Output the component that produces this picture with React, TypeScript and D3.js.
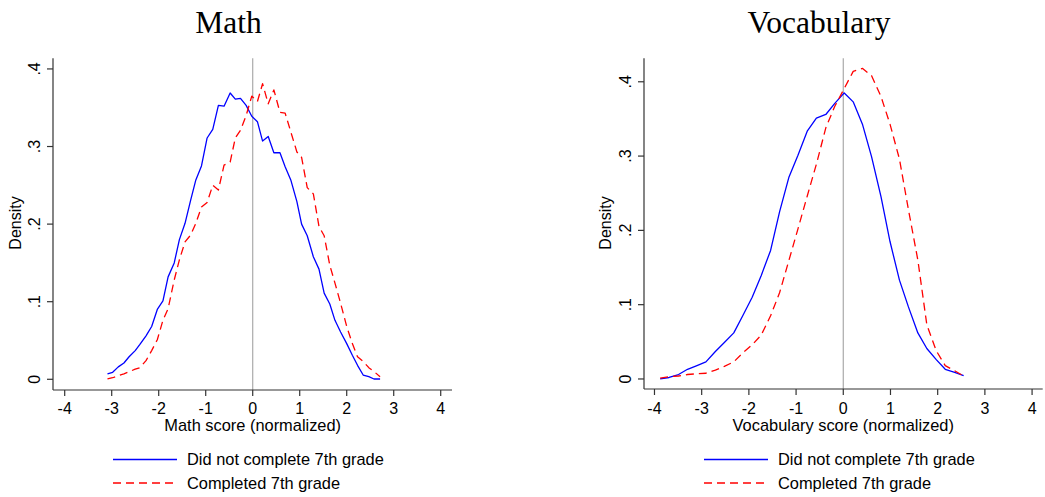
import React from "react";
import * as d3 from "d3";

const mathX = [
  -3.09, -2.98, -2.86, -2.74, -2.63, -2.5, -2.4, -2.27, -2.15, -2.03,
  -1.91, -1.8, -1.67, -1.56, -1.44, -1.32, -1.21, -1.09, -0.97, -0.85,
  -0.73, -0.61, -0.48, -0.37, -0.26, -0.14, -0.02, 0.1, 0.21, 0.33,
  0.45, 0.58, 0.69, 0.81, 0.94, 1.04, 1.16, 1.29, 1.41, 1.52,
  1.64, 1.75, 1.87, 2.0, 2.12, 2.23, 2.35, 2.47, 2.58, 2.71,
];
const mathNotCompleted = [
  0.007, 0.009, 0.016, 0.021, 0.029, 0.037, 0.045, 0.056, 0.068, 0.09,
  0.101, 0.132, 0.15, 0.18, 0.201, 0.231, 0.257, 0.275, 0.311, 0.322,
  0.353, 0.352, 0.369, 0.361, 0.362, 0.353, 0.339, 0.332, 0.307, 0.313,
  0.292, 0.292, 0.274, 0.257, 0.229, 0.2, 0.185, 0.158, 0.142, 0.111,
  0.097, 0.076, 0.061, 0.046, 0.031, 0.018, 0.0055, 0.0034, 0.0004, 0.0004,
];
const mathCompleted = [
  0.0004, 0.002, 0.0047, 0.007, 0.0098, 0.013, 0.015, 0.024, 0.037, 0.051,
  0.076, 0.091, 0.128, 0.154, 0.177, 0.186, 0.201, 0.222, 0.228, 0.25,
  0.244, 0.276, 0.28, 0.311, 0.321, 0.34, 0.365, 0.358, 0.381, 0.355,
  0.373, 0.344, 0.343, 0.319, 0.293, 0.286, 0.247, 0.239, 0.197, 0.185,
  0.147, 0.124, 0.098, 0.068, 0.046, 0.029, 0.023, 0.015, 0.01, 0.0034,
];

const vocabX = [
  -3.88, -3.69, -3.49, -3.3, -3.1, -2.91, -2.71, -2.52, -2.32, -2.13,
  -1.93, -1.74, -1.54, -1.35, -1.15, -0.96, -0.76, -0.57, -0.37, -0.18,
  0.02, 0.21, 0.41, 0.6, 0.8, 0.99, 1.19, 1.38, 1.58, 1.77,
  1.97, 2.16, 2.36, 2.55,
];
const vocabNotCompleted = [
  0.0, 0.002, 0.006, 0.013, 0.018, 0.023, 0.037, 0.049, 0.062, 0.085,
  0.11, 0.139, 0.173, 0.225, 0.272, 0.301, 0.334, 0.351, 0.356, 0.371,
  0.385, 0.373, 0.342, 0.299, 0.245, 0.185, 0.133, 0.097, 0.062, 0.041,
  0.026, 0.013, 0.009, 0.0045,
];
const vocabCompleted = [
  0.001, 0.003, 0.004, 0.006, 0.007, 0.0077, 0.012, 0.017, 0.023, 0.035,
  0.046, 0.059, 0.085, 0.116, 0.16, 0.202, 0.247, 0.289, 0.338, 0.367,
  0.391, 0.414, 0.418, 0.408, 0.38, 0.343, 0.296, 0.228, 0.16, 0.073,
  0.038, 0.018, 0.011, 0.004,
];

const xTicks = [-4, -3, -2, -1, 0, 1, 2, 3, 4];
const yTicks = [0, 0.1, 0.2, 0.3, 0.4];
const yTickLabels = ["0", ".1", ".2", ".3", ".4"];
const seriesNames = ["Did not complete 7th grade", "Completed 7th grade"];
const panelTitles = ["Math", "Vocabulary"];
const xLabels = ["Math score (normalized)", "Vocabulary score (normalized)"];

const SANS = "'Liberation Sans', Arial, Helvetica, sans-serif";
const SERIF = "'Liberation Serif', 'Times New Roman', serif";
const BLUE = "#0000ff";
const RED = "#ff0000";
const AXIS = "#333333";

type PanelProps = {
  title: string;
  titleX: number;
  xLabel: string;
  xs: number[];
  blue: number[];
  red: number[];
  xPx: [number, number];
  xDom: [number, number];
  yPx: [number, number];
  yDom: [number, number];
  densityX: number;
  tickLabelX: number;
  legendX: number;
};

function Panel(p: PanelProps) {
  const x = d3.scaleLinear().domain(p.xDom).range(p.xPx);
  const y = d3.scaleLinear().domain(p.yDom).range(p.yPx);
  const line = d3
    .line<[number, number]>()
    .x((d) => x(d[0]))
    .y((d) => y(d[1]));
  const bluePts = p.xs.map((v, i) => [v, p.blue[i]] as [number, number]);
  const redPts = p.xs.map((v, i) => [v, p.red[i]] as [number, number]);
  const top = p.yPx[1];
  const bottom = p.yPx[0];
  const left = p.xPx[0];
  const right = p.xPx[1];
  const midY = 223;
  return (
    <g>
      <text x={p.titleX} y={33} fontFamily={SERIF} fontSize={31.5} textAnchor="middle" fill="#000">
        {p.title}
      </text>
      <line x1={x(0)} x2={x(0)} y1={top} y2={bottom} stroke="#aaaaaa" strokeWidth={1.2} />
      <path d={line(bluePts) || ""} fill="none" stroke={BLUE} strokeWidth={1.3} strokeLinejoin="round" />
      <path d={line(redPts) || ""} fill="none" stroke={RED} strokeWidth={1.3} strokeDasharray="8,5" strokeLinejoin="round" />
      <line x1={left} x2={left} y1={top} y2={bottom} stroke={AXIS} strokeWidth={1.2} />
      <line x1={left} x2={right} y1={bottom} y2={bottom} stroke={AXIS} strokeWidth={1.2} />
      {yTicks.map((t, i) => (
        <g key={"y" + i}>
          <line x1={left - 6} x2={left} y1={y(t)} y2={y(t)} stroke={AXIS} strokeWidth={1.2} />
          <text
            transform={`translate(${p.tickLabelX},${y(t)}) rotate(-90)`}
            textAnchor="middle"
            fontFamily={SANS}
            fontSize={16}
            fill="#000"
          >
            {yTickLabels[i]}
          </text>
        </g>
      ))}
      <text
        transform={`translate(${p.densityX},${midY}) rotate(-90)`}
        textAnchor="middle"
        fontFamily={SANS}
        fontSize={16}
        fill="#000"
      >
        Density
      </text>
      {xTicks.map((t) => (
        <g key={"x" + t}>
          <line x1={x(t)} x2={x(t)} y1={bottom} y2={bottom + 6} stroke={AXIS} strokeWidth={1.2} />
          <text x={x(t)} y={414} textAnchor="middle" fontFamily={SANS} fontSize={16} fill="#000">
            {t}
          </text>
        </g>
      ))}
      <text x={x(0)} y={431} textAnchor="middle" fontFamily={SANS} fontSize={16.4} fill="#000">
        {p.xLabel}
      </text>
      <line x1={p.legendX} x2={p.legendX + 64} y1={459.5} y2={459.5} stroke={BLUE} strokeWidth={1.3} />
      <text x={p.legendX + 74} y={465} fontFamily={SANS} fontSize={16.4} fill="#000">
        {seriesNames[0]}
      </text>
      <line x1={p.legendX} x2={p.legendX + 64} y1={483} y2={483} stroke={RED} strokeWidth={1.3} strokeDasharray="8,5" />
      <text x={p.legendX + 74} y={488.5} fontFamily={SANS} fontSize={16.4} fill="#000">
        {seriesNames[1]}
      </text>
    </g>
  );
}

export default function App() {
  return (
    <svg
      width={1045}
      height={497}
      style={{ position: "absolute", left: 0, top: 0, background: "#fff" }}
    >
      <rect width={1045} height={497} fill="#fff" />
      <Panel
        title={panelTitles[0]}
        titleX={228.5}
        xLabel={xLabels[0]}
        xs={mathX}
        blue={mathNotCompleted}
        red={mathCompleted}
        xPx={[53, 452]}
        xDom={[-4.249, 4.24]}
        yPx={[390, 58.3]}
        yDom={[-0.0138, 0.4137]}
        densityX={20.5}
        tickLabelX={40}
        legendX={113}
      />
      <Panel
        title={panelTitles[1]}
        titleX={819}
        xLabel={xLabels[1]}
        xs={vocabX}
        blue={vocabNotCompleted}
        red={vocabCompleted}
        xPx={[644, 1042.7]}
        xDom={[-4.222, 4.225]}
        yPx={[389, 58.3]}
        yDom={[-0.0135, 0.4316]}
        densityX={611}
        tickLabelX={631}
        legendX={704}
      />
    </svg>
  );
}
